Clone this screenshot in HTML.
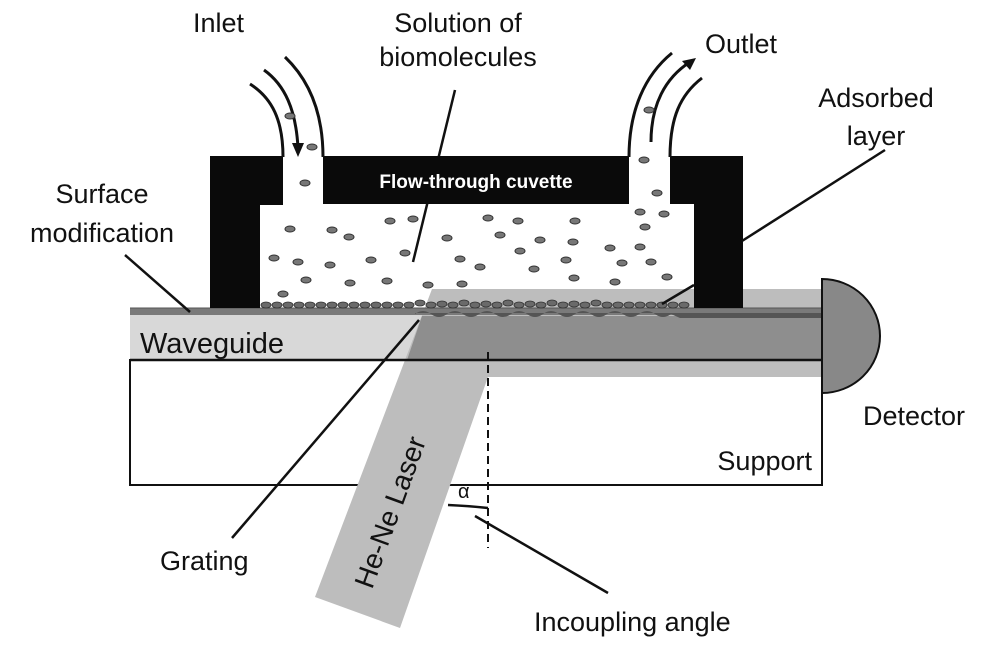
<!DOCTYPE html>
<html><head><meta charset="utf-8"><style>
html,body{margin:0;padding:0;background:#fff}
svg{display:block}
text{font-family:"Liberation Sans",Arial,sans-serif;fill:#111}
</style></head><body>
<svg width="1000" height="651" viewBox="0 0 1000 651" xmlns="http://www.w3.org/2000/svg">
<rect x="130" y="360" width="692" height="125" fill="#fff" stroke="#111" stroke-width="2"/>
<rect x="130" y="309" width="692" height="51" fill="#d8d8d8"/>
<polygon points="432,289 830,289 830,377 488,377 400,628 315,597" fill="#bdbdbd"/>
<polygon points="422,316 822,316 822,360 407,360" fill="#8e8e8e"/>
<rect x="130" y="308" width="692" height="7" fill="#7a7a7a"/>
<path d="M415,314 q8,-6 16,0 t16,0 t16,0 t16,0 t16,0 t16,0 t16,0 t16,0 t16,0 t16,0 t16,0 t16,0 t16,0 t16,0 t16,0 t16,0 L680,318 L822,318 L822,313 L415,313Z" fill="#555"/>
<line x1="130" y1="360" x2="822" y2="360" stroke="#111" stroke-width="2.5"/>
<line x1="130" y1="308" x2="822" y2="308" stroke="#555" stroke-width="1"/>
<line x1="455" y1="90" x2="413" y2="262" stroke="#111" stroke-width="2.5"/>
<path d="M210,156 H283 V205 H260 V308 H210Z" fill="#0a0a0a"/>
<path d="M323,156 H629 V204 H323Z" fill="#0a0a0a"/>
<path d="M670,156 H743 V308 H694 V204 H670Z" fill="#0a0a0a"/>
<text x="476" y="188" font-size="19" font-weight="bold" text-anchor="middle" style="fill:#fff">Flow-through cuvette</text>
<g fill="none" stroke="#111" stroke-width="3">
<path d="M283,157 C283,120 272,98 250,84"/>
<path d="M323,157 C323,110 307,78 285,57"/>
<path d="M264,70 C285,85 296,110 298,148"/>
<path d="M629,157 C629,110 645,75 672,53"/>
<path d="M670,157 C670,118 680,95 702,78"/>
<path d="M651,142 C651,105 665,78 690,62"/>
</g>
<polygon points="298,157 292,143 304,143" fill="#111"/>
<polygon points="696,58 682,61 690,70" fill="#111"/>
<g fill="#777" stroke="#333" stroke-width="1">
<ellipse cx="290" cy="116" rx="5" ry="3"/><ellipse cx="312" cy="147" rx="5" ry="3"/>
<ellipse cx="305" cy="183" rx="5" ry="3"/><ellipse cx="649" cy="110" rx="5" ry="3"/>
<ellipse cx="644" cy="160" rx="5" ry="3"/><ellipse cx="657" cy="193" rx="5" ry="3"/>
<ellipse cx="645" cy="227" rx="5" ry="3"/><ellipse cx="664" cy="214" rx="5" ry="3"/>
<ellipse cx="332" cy="230" rx="5" ry="3"/><ellipse cx="290" cy="229" rx="5" ry="3"/>
<ellipse cx="349" cy="237" rx="5" ry="3"/><ellipse cx="390" cy="221" rx="5" ry="3"/>
<ellipse cx="413" cy="219" rx="5" ry="3"/><ellipse cx="447" cy="238" rx="5" ry="3"/>
<ellipse cx="488" cy="218" rx="5" ry="3"/><ellipse cx="518" cy="221" rx="5" ry="3"/>
<ellipse cx="575" cy="221" rx="5" ry="3"/><ellipse cx="640" cy="212" rx="5" ry="3"/>
<ellipse cx="573" cy="242" rx="5" ry="3"/><ellipse cx="610" cy="248" rx="5" ry="3"/>
<ellipse cx="274" cy="258" rx="5" ry="3"/><ellipse cx="298" cy="262" rx="5" ry="3"/>
<ellipse cx="330" cy="265" rx="5" ry="3"/><ellipse cx="371" cy="260" rx="5" ry="3"/>
<ellipse cx="405" cy="253" rx="5" ry="3"/><ellipse cx="460" cy="259" rx="5" ry="3"/>
<ellipse cx="480" cy="267" rx="5" ry="3"/><ellipse cx="534" cy="269" rx="5" ry="3"/>
<ellipse cx="574" cy="278" rx="5" ry="3"/><ellipse cx="566" cy="260" rx="5" ry="3"/>
<ellipse cx="622" cy="263" rx="5" ry="3"/><ellipse cx="651" cy="262" rx="5" ry="3"/>
<ellipse cx="640" cy="247" rx="5" ry="3"/><ellipse cx="615" cy="282" rx="5" ry="3"/>
<ellipse cx="667" cy="277" rx="5" ry="3"/><ellipse cx="306" cy="280" rx="5" ry="3"/>
<ellipse cx="387" cy="281" rx="5" ry="3"/><ellipse cx="428" cy="285" rx="5" ry="3"/>
<ellipse cx="283" cy="294" rx="5" ry="3"/><ellipse cx="500" cy="235" rx="5" ry="3"/>
<ellipse cx="520" cy="251" rx="5" ry="3"/><ellipse cx="540" cy="240" rx="5" ry="3"/>
<ellipse cx="462" cy="284" rx="5" ry="3"/><ellipse cx="350" cy="283" rx="5" ry="3"/>
</g>
<g fill="#6a6a6a" stroke="#333" stroke-width="0.8">
<ellipse cx="266" cy="305" rx="5" ry="3"/><ellipse cx="277" cy="305" rx="5" ry="3"/><ellipse cx="288" cy="305" rx="5" ry="3"/><ellipse cx="299" cy="305" rx="5" ry="3"/><ellipse cx="310" cy="305" rx="5" ry="3"/><ellipse cx="321" cy="305" rx="5" ry="3"/><ellipse cx="332" cy="305" rx="5" ry="3"/><ellipse cx="343" cy="305" rx="5" ry="3"/><ellipse cx="354" cy="305" rx="5" ry="3"/><ellipse cx="365" cy="305" rx="5" ry="3"/><ellipse cx="376" cy="305" rx="5" ry="3"/><ellipse cx="387" cy="305" rx="5" ry="3"/><ellipse cx="398" cy="305" rx="5" ry="3"/><ellipse cx="409" cy="305" rx="5" ry="3"/><ellipse cx="420" cy="303" rx="5" ry="3"/><ellipse cx="431" cy="305" rx="5" ry="3"/><ellipse cx="442" cy="304" rx="5" ry="3"/><ellipse cx="453" cy="305" rx="5" ry="3"/><ellipse cx="464" cy="303" rx="5" ry="3"/><ellipse cx="475" cy="305" rx="5" ry="3"/><ellipse cx="486" cy="304" rx="5" ry="3"/><ellipse cx="497" cy="305" rx="5" ry="3"/><ellipse cx="508" cy="303" rx="5" ry="3"/><ellipse cx="519" cy="305" rx="5" ry="3"/><ellipse cx="530" cy="304" rx="5" ry="3"/><ellipse cx="541" cy="305" rx="5" ry="3"/><ellipse cx="552" cy="303" rx="5" ry="3"/><ellipse cx="563" cy="305" rx="5" ry="3"/><ellipse cx="574" cy="304" rx="5" ry="3"/><ellipse cx="585" cy="305" rx="5" ry="3"/><ellipse cx="596" cy="303" rx="5" ry="3"/><ellipse cx="607" cy="305" rx="5" ry="3"/><ellipse cx="618" cy="305" rx="5" ry="3"/><ellipse cx="629" cy="305" rx="5" ry="3"/><ellipse cx="640" cy="305" rx="5" ry="3"/><ellipse cx="651" cy="305" rx="5" ry="3"/><ellipse cx="662" cy="305" rx="5" ry="3"/><ellipse cx="673" cy="305" rx="5" ry="3"/><ellipse cx="684" cy="305" rx="5" ry="3"/>
</g>
<path d="M822,279 A58,57 0 0 1 822,393 Z" fill="#888" stroke="#111" stroke-width="2"/>
<line x1="488" y1="352" x2="488" y2="548" stroke="#111" stroke-width="2" stroke-dasharray="8,5"/>
<path d="M448,505 Q470,506 488,508" fill="none" stroke="#111" stroke-width="2.5"/>
<text x="458" y="498" font-size="20" font-family="Liberation Serif">α</text>
<g stroke="#111" stroke-width="2.5" fill="none">
<line x1="125" y1="255" x2="190" y2="312"/>
<line x1="885" y1="150" x2="742" y2="241"/>
<line x1="694" y1="285" x2="662" y2="304"/>
<line x1="419" y1="320" x2="232" y2="538"/>
<line x1="475" y1="516" x2="608" y2="593"/>
</g>
<g font-size="27">
<text x="193" y="32">Inlet</text>
<text x="458" y="32" text-anchor="middle">Solution of</text>
<text x="458" y="66" text-anchor="middle">biomolecules</text>
<text x="705" y="53">Outlet</text>
<text x="876" y="107" text-anchor="middle">Adsorbed</text>
<text x="876" y="145" text-anchor="middle">layer</text>
<text x="102" y="203" text-anchor="middle">Surface</text>
<text x="102" y="242" text-anchor="middle">modification</text>
<text x="140" y="353" font-size="29">Waveguide</text>
<text x="812" y="470" text-anchor="end">Support</text>
<text x="863" y="425">Detector</text>
<text x="160" y="570">Grating</text>
<text x="534" y="631">Incoupling angle</text>
<text transform="translate(372,590) rotate(-70)" font-size="28">He-Ne Laser</text>
</g>
</svg>
</body></html>
